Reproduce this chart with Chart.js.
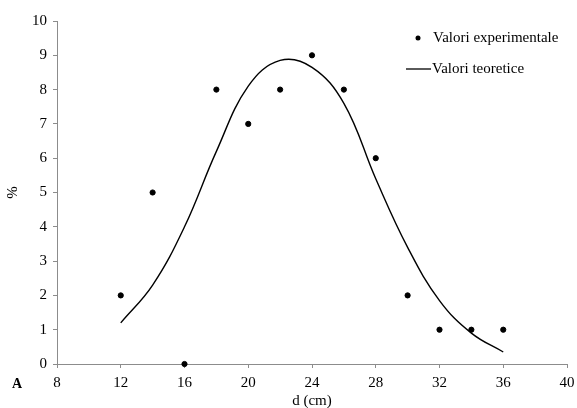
<!DOCTYPE html>
<html>
<head>
<meta charset="utf-8">
<script src="https://cdn.jsdelivr.net/npm/chart.js@4/dist/chart.umd.min.js"></script>
<style>
  html, body { margin: 0; padding: 0; background: #fff; }
  #wrap { width: 577px; height: 408px; position: relative; }
</style>
</head>
<body>
<div id="wrap"><canvas id="chart"></canvas></div>
<script>
const expX = [12, 14, 16, 18, 20, 22, 24, 26, 28, 30, 32, 34, 36];
const expY = [2, 5, 0, 8, 7, 8, 9, 8, 6, 2, 1, 1, 1];
const teoX = [12, 14, 16, 18, 20, 22, 24, 26, 28, 30, 32, 34, 36];
const teoY = [1.2, 2.3, 4.0, 6.2, 8.1, 8.85, 8.65, 7.6, 5.4, 3.4, 1.85, 0.9, 0.35];

const FONT = '"Liberation Serif", "Times New Roman", serif';
const AXIS = '#8c8c8c';

const legendPlugin = {
  id: 'innerLegend',
  afterDraw(chart) {
    const { ctx } = chart;
    const ds = chart.data.datasets;
    ctx.save();
    ctx.font = '15px ' + FONT;
    ctx.fillStyle = '#000';
    ctx.textBaseline = 'middle';
    ctx.textAlign = 'left';
    // scatter entry
    ctx.beginPath();
    ctx.arc(418, 38, 2.5, 0, Math.PI * 2);
    ctx.fill();
    ctx.fillText(ds[0].label, 433, 38);
    // line entry
    ctx.strokeStyle = '#000';
    ctx.lineWidth = 1.3;
    ctx.beginPath();
    ctx.moveTo(406, 69);
    ctx.lineTo(431, 69);
    ctx.stroke();
    ctx.fillText(ds[1].label, 432, 69);
    // panel letter
    ctx.font = 'bold 14px ' + FONT;
    ctx.fillText('A', 12, 384);
    ctx.restore();
  }
};

new Chart(document.getElementById('chart'), {
  type: 'scatter',
  data: {
    datasets: [{
      label: 'Valori experimentale',
      data: expX.map((x, i) => ({ x, y: expY[i] })),
      pointRadius: 2.6,
      pointBackgroundColor: '#000',
      pointBorderColor: '#000',
      showLine: false,
      clip: false,
    }, {
      label: 'Valori teoretice',
      type: 'line',
      data: teoX.map((x, i) => ({ x, y: teoY[i] })),
      borderColor: '#000',
      borderWidth: 1.4,
      pointRadius: 0,
      tension: 0.4,
      fill: false,
    }]
  },
  options: {
    responsive: true,
    maintainAspectRatio: false,
    animation: false,
    layout: { padding: { left: 4, right: 10, top: 21, bottom: -2 } },
    scales: {
      x: {
        type: 'linear',
        min: 8, max: 40,
        // let the last label hang into the right margin
        afterFit(scale) { scale.paddingRight = 0; },
        ticks: { stepSize: 4, color: '#000', font: { family: FONT, size: 15 }, padding: 6 },
        grid: { drawOnChartArea: false, color: AXIS, tickLength: 4 },
        border: { color: AXIS },
        title: { display: true, text: 'd (cm)', color: '#000', font: { family: FONT, size: 15 }, padding: { top: -6, bottom: 0 } }
      },
      y: {
        min: 0, max: 10,
        ticks: { stepSize: 1, color: '#000', font: { family: FONT, size: 15 }, padding: 6 },
        grid: { drawOnChartArea: false, color: AXIS, tickLength: 4 },
        border: { color: AXIS },
        title: { display: true, text: '%', color: '#000', font: { family: FONT, size: 15 }, padding: { top: 0, bottom: 4 } }
      }
    },
    plugins: {
      legend: { display: false },
      tooltip: { enabled: false }
    }
  },
  plugins: [legendPlugin]
});
</script>
</body>
</html>
